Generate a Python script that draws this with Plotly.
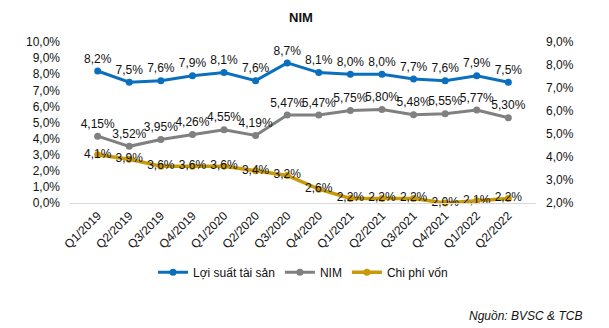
import plotly.graph_objects as go

quarters = ["Q1/2019", "Q2/2019", "Q3/2019", "Q4/2019", "Q1/2020", "Q2/2020", "Q3/2020",
            "Q4/2020", "Q1/2021", "Q2/2021", "Q3/2021", "Q4/2021", "Q1/2022", "Q2/2022"]
loi_suat_tai_san = [8.2, 7.5, 7.6, 7.9, 8.1, 7.6, 8.7, 8.1, 8.0, 8.0, 7.7, 7.6, 7.9, 7.5]
nim = [4.15, 3.52, 3.95, 4.26, 4.55, 4.19, 5.47, 5.47, 5.75, 5.80, 5.48, 5.55, 5.77, 5.30]
chi_phi_von = [4.1, 3.9, 3.6, 3.6, 3.6, 3.4, 3.2, 2.6, 2.2, 2.2, 2.2, 2.0, 2.1, 2.2]

BLUE = "#0A70BE"
GRAY = "#808080"
GOLD = "#C99A08"
TXT = "#111111"
FONT = "Liberation Sans, Arial, sans-serif"
FS = 12

fig = go.Figure()
fig.add_trace(go.Scatter(
    x=quarters, y=loi_suat_tai_san, name="Lợi suất tài sản", mode="lines+markers+text",
    line=dict(color=BLUE, width=3), marker=dict(size=7, color=BLUE),
    texttemplate="%{y:.1f}%", textposition="top center",
    textfont=dict(size=FS, color=TXT, family=FONT), cliponaxis=False))
fig.add_trace(go.Scatter(
    x=quarters, y=nim, name="NIM", mode="lines+markers+text",
    line=dict(color=GRAY, width=3), marker=dict(size=7, color=GRAY),
    texttemplate="%{y:.2f}%", textposition="top center",
    textfont=dict(size=FS, color=TXT, family=FONT), cliponaxis=False))
fig.add_trace(go.Scatter(
    x=quarters, y=chi_phi_von, name="Chi phí vốn", mode="lines+markers+text", yaxis="y2",
    line=dict(color=GOLD, width=3.5), marker=dict(size=7, color=GOLD),
    texttemplate="%{y:.1f}%", textposition="middle center",
    textfont=dict(size=FS, color=TXT, family=FONT), cliponaxis=False))

fig.update_layout(
    width=609, height=328,
    margin=dict(l=70, r=73, t=42, b=125),
    paper_bgcolor="white", plot_bgcolor="white",
    separators=",.",
    font=dict(family=FONT, size=FS, color=TXT),
    showlegend=True,
    legend=dict(orientation="h", x=0.5, xanchor="center", y=-0.43, yanchor="middle",
                font=dict(size=FS, color=TXT), itemwidth=30, traceorder="normal"),
    xaxis=dict(type="category", tickangle=-45, showgrid=False, showline=True,
               linecolor="#D9D9D9", linewidth=1, ticks="", tickfont=dict(size=FS)),
    yaxis=dict(range=[0, 10], dtick=1, tickformat=".1f", ticksuffix="%", showgrid=False,
               zeroline=False, showline=False, tickfont=dict(size=FS), ticklabelstandoff=9),
    yaxis2=dict(range=[2, 9], dtick=1, tickformat=".1f", ticksuffix="%", overlaying="y",
                side="right", showgrid=False, zeroline=False, showline=False,
                tickfont=dict(size=FS), ticklabelstandoff=9),
    annotations=[
        dict(text="<b>NIM</b>", xref="paper", yref="paper", x=0.495, y=1.0, yshift=25,
             showarrow=False, font=dict(size=13, color=TXT), xanchor="center", yanchor="middle"),
        dict(text="<i>Nguồn: BVSC &amp; TCB</i>", xref="paper", yref="paper", x=1.0, xshift=48,
             y=-0.7, yanchor="middle", xanchor="right", showarrow=False,
             font=dict(size=FS, color=TXT)),
    ],
)

fig.write_html("out.html")
